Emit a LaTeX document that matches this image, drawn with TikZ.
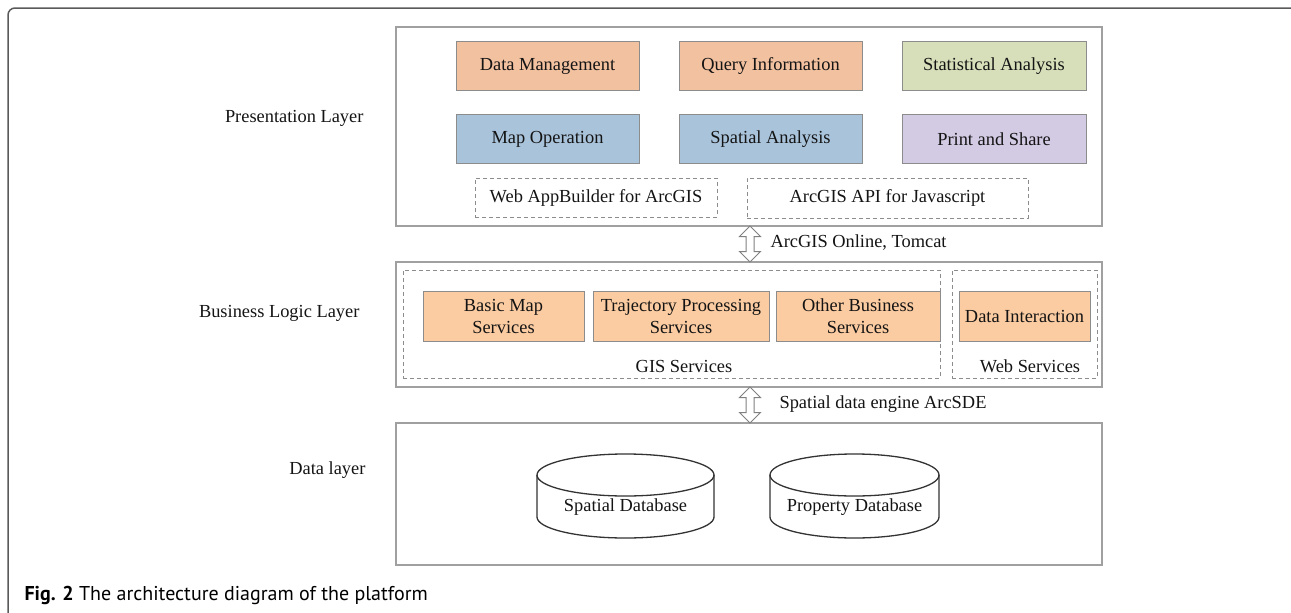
\documentclass[tikz,border=0pt]{standalone}
\usepackage{fontspec}
\setmainfont{Liberation Serif}
\newfontfamily\captionfont{PT Sans}
\usetikzlibrary{arrows.meta, calc, positioning, shapes.arrows}

\definecolor{boxline}{HTML}{8C8C8C}
\definecolor{layerline}{HTML}{A0A0A0}
\definecolor{frameline}{HTML}{5A5A5A}
\definecolor{dbline}{HTML}{333333}
\definecolor{funcorange}{HTML}{F2C1A0}
\definecolor{svcorange}{HTML}{FBCBA1}
\definecolor{funcblue}{HTML}{A9C3DB}
\definecolor{funcgreen}{HTML}{D6DEBA}
\definecolor{funcpurple}{HTML}{D3CAE4}
\definecolor{textcol}{HTML}{141414}

\begin{document}
\begin{tikzpicture}[x=1pt, y=-1pt,
  font=\fontsize{18.4}{22}\selectfont, text=textcol,
  layer/.style={draw=layerline, line width=1.5pt, minimum width=706pt, inner sep=0pt},
  func/.style={draw=boxline, line width=1pt, minimum width=183pt, minimum height=49pt, inner sep=0pt},
  svc/.style={draw=boxline, line width=1pt, fill=svcorange, minimum height=50pt, inner sep=0pt, align=center},
  group/.style={draw=boxline, dash pattern=on 4pt off 3pt, line width=1pt, inner sep=0pt},
  dblarrow/.style={double arrow, draw=gray, fill=white, line width=1pt, rotate=90,
    minimum height=36pt, minimum width=20pt, inner sep=3.5pt, double arrow head extend=6.5pt},
  cyl/.style={draw=dbline, line width=1.3pt}]

% Page size and the figure frame
\useasboundingbox (0,0) rectangle (1291,613);
\draw[frameline, line width=1.5pt, rounded corners=7pt] (8,650) -- (8,8) -- (1330,8);

% The three layers
\node[layer, minimum height=199pt] (pres) at (749,126.5) {};
\node[layer, minimum height=125pt] (biz) at (749,324.5) {};
\node[layer, minimum height=142pt] (data) at (749,494) {};

\node[anchor=east] (preslabel) at (367,118) {Presentation Layer};
\node[anchor=east] (bizlabel) at (363,313) {Business Logic Layer};
\node[anchor=east] (datalabel) at (369,470) {Data layer};

% Presentation layer functions
\node[func, fill=funcorange] (datamgmt) at (547.5,66) {Data Management};
\node[func, fill=funcorange, right=39pt of datamgmt] (query) {Query Information};
\node[func, fill=funcgreen, minimum width=184pt, right=39pt of query] (stats) {Statistical Analysis};
\node[func, fill=funcblue, below=23pt of datamgmt] (mapop) {Map Operation};
\node[func, fill=funcblue, below=23pt of query] (spatial) {Spatial Analysis};
\node[func, fill=funcpurple, minimum width=184pt, below=23pt of stats] (print) {Print and Share};

% Development frameworks (dashed)
\node[group, minimum width=242pt, minimum height=39pt] (webapp) at (596,197.5) {Web AppBuilder for ArcGIS};
\node[group, minimum width=281pt, minimum height=40pt] (jsapi) at (887.5,198) {ArcGIS API for Javascript};

% Link between presentation and business logic
\node[dblarrow] (link1) at ($(pres.south)!0.5!(biz.north)+(1,0)$) {};
\node[anchor=west] (link1label) at ($(link1.center)+(17,-1)$) {ArcGIS Online, Tomcat};

% Business logic layer: service groups
\node[group, minimum width=537pt, minimum height=108pt] (gis) at (671.5,324) {};
\node[group, minimum width=145pt, minimum height=108pt] (websvc) at (1024.5,324) {};

\node[svc, minimum width=161pt] (basicmap) at (503.5,316) {Basic Map\\Services};
\node[svc, minimum width=176pt] (traj) at (681,316) {Trajectory Processing\\Services};
\node[svc, minimum width=164pt] (other) at (858,316) {Other Business\\Services};
\node[svc, minimum width=131pt] (interact) at (1024.5,316) {Data Interaction};

\node (gislabel) at (684,366) {GIS Services};
\node (weblabel) at (1030,366) {Web Services};

% Link between business logic and data
\node[dblarrow] (link2) at ($(biz.south)!0.5!(data.north)+(1,0)$) {};
\node[anchor=west] (link2label) at ($(link2.center)+(26,-1)$) {Spatial data engine ArcSDE};

% Data layer: two databases drawn as cylinders
\node (spatialdb) at (625.5,507) {Spatial Database};
\coordinate (sdbtop) at (625.5,475);
\draw[cyl] (sdbtop) ellipse [x radius=88.5, y radius=21];
\draw[cyl] ($(sdbtop)+(-88.5,0)$) -- ++(0,42) arc[start angle=180, end angle=0, x radius=88.5, y radius=21] -- ++(0,-42);

\node (propertydb) at (854.5,507) {Property Database};
\coordinate (pdbtop) at (854.5,475);
\draw[cyl] (pdbtop) ellipse [x radius=84.5, y radius=21];
\draw[cyl] ($(pdbtop)+(-84.5,0)$) -- ++(0,42) arc[start angle=180, end angle=0, x radius=84.5, y radius=21] -- ++(0,-42);

% Caption
\node[anchor=west, font=\captionfont\fontsize{20}{24}\selectfont, text=black] (caption) at (21,595)
  {\textbf{Fig. 2} The architecture diagram of the platform};

\end{tikzpicture}
\end{document}
